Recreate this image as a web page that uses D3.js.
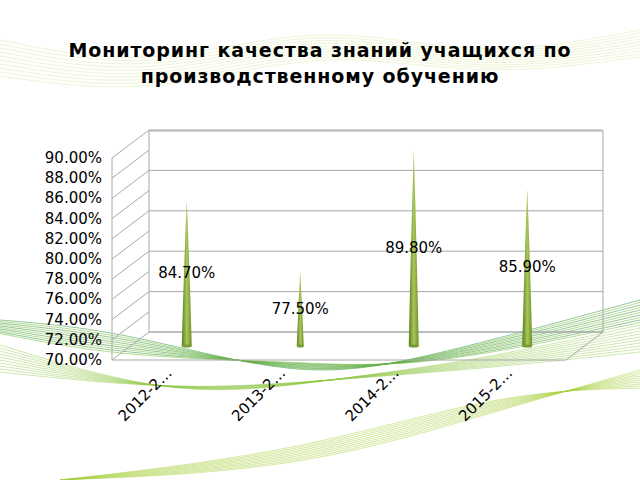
<!DOCTYPE html><html><head><meta charset="utf-8"><script src="https://d3js.org/d3.v7.min.js"></script>
<style>body{margin:0;background:#fff}</style></head><body><svg id="c" width="640" height="480"></svg>
<script>
const categories=["2012-2…","2013-2…","2014-2…","2015-2…"];
const values=[84.7,77.5,89.8,85.9];
const labels=["84.70%","77.50%","89.80%","85.90%"];
const ticks=[70,72,74,76,78,80,82,84,86,88,90];
const svg=d3.select("#c");
const F="'DejaVu Sans',sans-serif";
const defs=svg.append("defs");
const line=d3.line().curve(d3.curveBasis);
for(let i=0;i<10;i++){
 svg.append("path").attr("d",line([[0,320+i*1.5],[120,330+i*3],[300,380-i*2],[420,360+i],[640,300+i*2.5]])).attr("fill","none").attr("stroke",i%2?"#7fbf3a":"#3a9a4a").attr("stroke-width",0.8).attr("opacity",0.7);
 svg.append("path").attr("d",line([[0,345+i*3],[180,400-i],[330,380],[480,360+i],[640,325+i*3]])).attr("fill","none").attr("stroke","#8cc63f").attr("stroke-width",0.7).attr("opacity",0.6);
 svg.append("path").attr("d",line([[0,40+i*4],[150,70+i*3],[320,20+i*3],[480,60+i*2],[640,30+i*3]])).attr("fill","none").attr("stroke","#c5e07a").attr("stroke-width",0.7).attr("opacity",0.45);
 svg.append("path").attr("d",line([[60,480],[300,470-i*2],[500,410-i*2],[640,370+i*2]])).attr("fill","none").attr("stroke","#a6cf3a").attr("stroke-width",0.8).attr("opacity",0.6);
}
svg.append("text").attr("x",320).attr("y",57).attr("text-anchor","middle").attr("font-family",F).attr("font-weight","bold").attr("font-size",19).attr("letter-spacing",0.9).text("Мониторинг качества знаний учащихся по");
svg.append("text").attr("x",320).attr("y",83).attr("text-anchor","middle").attr("font-family",F).attr("font-weight","bold").attr("font-size",19).attr("letter-spacing",0.9).text("производственному обучению");
const dx=37,dy=-28;
const yF=d3.scaleLinear().domain([70,90]).range([360,158]);
const yB=v=>yF(v)+dy;
const xL=112,xR=566;
const gc="#a8a8a8";
const topY=131;
svg.append("rect").attr("x",xL+dx).attr("y",topY).attr("width",xR-xL).attr("height",yB(70)-topY).attr("fill","none").attr("stroke",gc);
ticks.forEach(t=>{
 svg.append("line").attr("x1",xL).attr("x2",xL+dx).attr("y1",yF(t)).attr("y2",yB(t)).attr("stroke",gc);
 if(t%4===2||t===90) svg.append("line").attr("x1",xL+dx).attr("x2",xR+dx).attr("y1",yB(t)).attr("y2",yB(t)).attr("stroke",gc);
 svg.append("text").attr("x",102).attr("y",yF(t)+5).attr("text-anchor","end").attr("font-family",F).attr("font-size",15).text(t.toFixed(2)+"%");
});
svg.append("line").attr("x1",xL).attr("x2",xL).attr("y1",yF(90)).attr("y2",yF(70)).attr("stroke",gc);
svg.append("line").attr("x1",xL).attr("x2",xR).attr("y1",yF(70)).attr("y2",yF(70)).attr("stroke",gc);
svg.append("line").attr("x1",xR).attr("x2",xR+dx).attr("y1",yF(70)).attr("y2",yB(70)).attr("stroke",gc);
const x=d3.scaleBand().domain(categories).range([xL+18,xR+18]);
const cg=defs.append("linearGradient").attr("id","cone");
[["0","#5a7a1e"],["0.5","#a8c85a"],["1","#6e8f2a"]].forEach(s=>cg.append("stop").attr("offset",s[0]).attr("stop-color",s[1]));
const base=346;
const yC=d3.scaleLinear().domain([70,90]).range([base,148]);
categories.forEach((c,i)=>{
 const cx=x(c)+x.bandwidth()/2, w=values[i]>80?5:3.5;
 svg.append("path").attr("d",`M${cx-w},${base} Q${cx-w*0.6},${(base+yC(values[i]))/2} ${cx},${yC(values[i])} Q${cx+w*0.6},${(base+yC(values[i]))/2} ${cx+w},${base} Z`).attr("fill","url(#cone)");
 svg.append("ellipse").attr("cx",cx).attr("cy",base).attr("rx",w).attr("ry",1.5).attr("fill","#7a9a30");
 svg.append("text").attr("x",cx).attr("y",yC((70+values[i])/2)+5).attr("text-anchor","middle").attr("font-family",F).attr("font-size",15).text(labels[i]);
 svg.append("text").attr("transform",`translate(${cx-14},${374}) rotate(-45)`).attr("text-anchor","end").attr("font-family",F).attr("font-size",15).text(c);
});
</script></body></html>
